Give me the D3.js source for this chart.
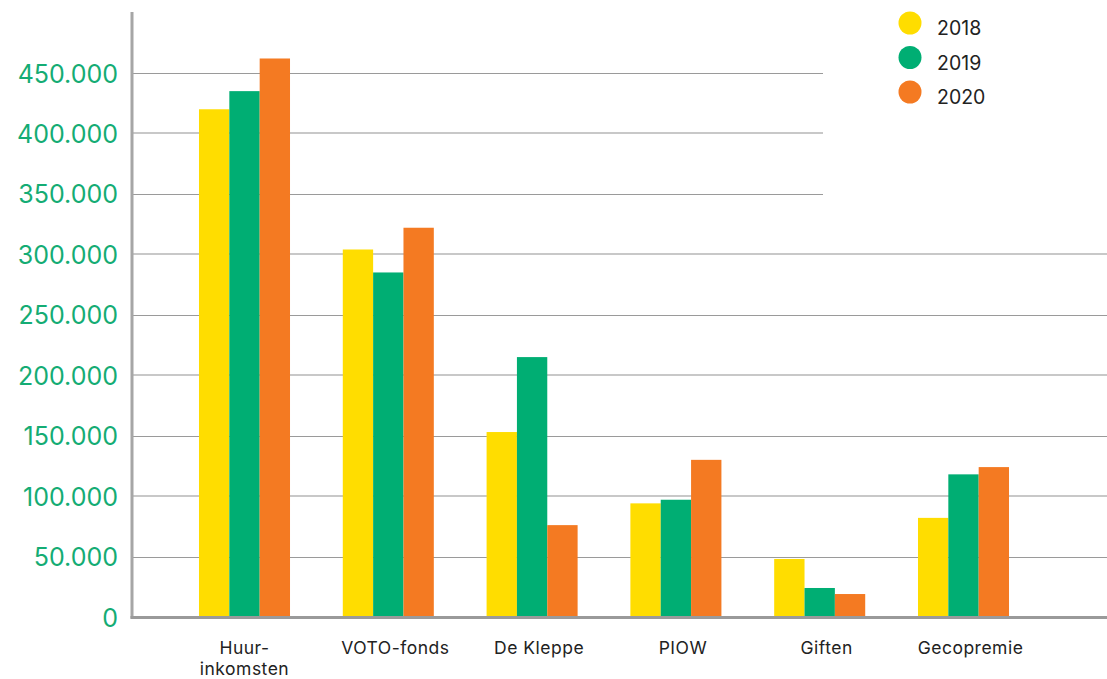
<!DOCTYPE html>
<html>
<head>
<meta charset="utf-8">
<script src="https://cdn.jsdelivr.net/npm/d3@7"></script>
<style>
  html, body { margin: 0; padding: 0; background: #fff; }
  svg { display: block; }
</style>
</head>
<body>
<svg id="chart" width="1107" height="679"></svg>
<script>
// Inkomsten per bron, per jaar (in euro)
const categories = ["Huur-\ninkomsten", "VOTO-fonds", "De Kleppe", "PIOW", "Giften", "Gecopremie"];
const years = ["2018", "2019", "2020"];
const values2018 = [420000, 304000, 153000, 94000, 48000, 82000];
const values2019 = [435000, 285000, 215000, 97000, 24000, 118000];
const values2020 = [462000, 322000, 76000, 130000, 19000, 124000];
const yTicks = [0, 50000, 100000, 150000, 200000, 250000, 300000, 350000, 400000, 450000];
const colors = ["#FFDD00", "#00AE73", "#F47A22"];

const series = [values2018, values2019, values2020];
const rows = categories.map((c, i) => ({
  cat: c,
  vals: years.map((y, j) => ({ year: y, value: series[j][i], color: colors[j] }))
}));

const svg = d3.select("#chart");
const axisX = 132, baseY = 617, rightX = 1107, legendGapX = 823;

const y = d3.scaleLinear().domain([0, 450000]).range([baseY, 73]);
const x0 = d3.scaleBand().domain(categories).range([172.6, 1035.4])
  .paddingInner(0.367).paddingOuter(0.1835);
const x1 = d3.scaleBand().domain(years).range([0, x0.bandwidth()]).padding(0);

const fmt = v => d3.format(",")(v).replace(/,/g, ".");

// horizontale rasterlijnen
const grid = svg.append("g");
yTicks.filter(t => t > 0).forEach(t => {
  const major = (t / 50000) % 2 === 0;
  grid.append("line")
    .attr("x1", axisX + 1)
    .attr("x2", t > 300000 ? legendGapX : rightX)
    .attr("y1", Math.round(y(t)) + (major ? 0 : 0.5))
    .attr("y2", Math.round(y(t)) + (major ? 0 : 0.5))
    .attr("stroke", major ? "#c8c8c8" : "#9a9a9a")
    .attr("stroke-width", major ? 2 : 1);
});

// y-as labels
const yAxis = d3.axisLeft(y).tickValues(yTicks).tickFormat(fmt).tickSize(0).tickPadding(0);
const ga = svg.append("g").attr("transform", `translate(118,0)`).call(yAxis);
ga.select(".domain").remove();
ga.selectAll("text")
  .attr("fill", "#14AC74")
  .attr("font-family", "Inter, 'Open Sans', sans-serif")
  .attr("font-size", 25)
  .attr("dy", "0.36em");

// staven
const groups = svg.append("g").selectAll("g").data(rows).join("g")
  .attr("transform", d => `translate(${x0(d.cat)},0)`);
groups.selectAll("rect").data(d => d.vals).join("rect")
  .attr("x", d => x1(d.year))
  .attr("width", x1.bandwidth())
  .attr("y", d => y(d.value))
  .attr("height", d => baseY - y(d.value))
  .attr("fill", d => d.color);

// assen
svg.append("line").attr("x1", axisX).attr("x2", axisX).attr("y1", 12).attr("y2", baseY + 1.5)
  .attr("stroke", "#a6a6a6").attr("stroke-width", 3);
svg.append("line").attr("x1", axisX - 1.5).attr("x2", rightX).attr("y1", baseY + 0.5).attr("y2", baseY + 0.5)
  .attr("stroke", "#9a9a9a").attr("stroke-width", 3);

// categorie labels
const labels = svg.append("g").selectAll("text").data(categories).join("text")
  .attr("y", 654)
  .attr("text-anchor", "middle")
  .attr("fill", "#222")
  .attr("font-family", "Inter, 'Open Sans', sans-serif")
  .attr("font-size", 17.5)
  .attr("letter-spacing", 0.5);
labels.each(function(d) {
  const lines = d.split("\n");
  const cx = x0(d) + x0.bandwidth() / 2 + (lines.length > 1 ? 0 : 7);
  d3.select(this).selectAll("tspan").data(lines).join("tspan")
    .attr("x", cx)
    .attr("dy", (l, i) => i === 0 ? 0 : 21)
    .text(l => l);
});

// legenda
const legend = svg.append("g").selectAll("g").data(years).join("g")
  .attr("transform", (d, i) => `translate(910,${23 + i * 34.5})`);
legend.append("circle").attr("r", 11.5).attr("fill", (d, i) => colors[i]);
legend.append("text").attr("x", 27).attr("y", 5).attr("dy", "0.36em")
  .attr("fill", "#222")
  .attr("font-family", "Inter, 'Open Sans', sans-serif")
  .attr("font-size", 19.5)
  .text(d => d);
</script>
</body>
</html>
